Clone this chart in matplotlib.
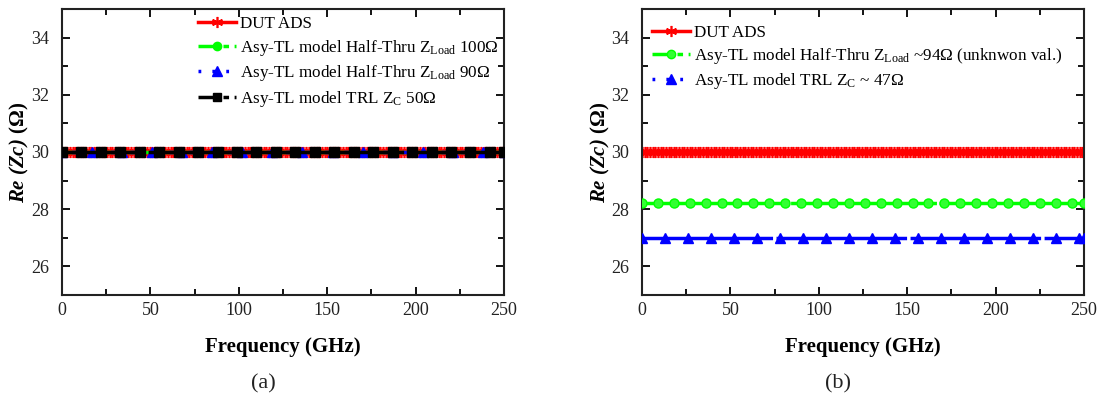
import numpy as np
import matplotlib
matplotlib.use("Agg")
import matplotlib.pyplot as plt
from matplotlib.lines import Line2D

plt.rcParams['font.family'] = ['Liberation Serif', 'DejaVu Serif']
plt.rcParams['mathtext.fontset'] = 'custom'
plt.rcParams['mathtext.rm'] = 'Liberation Serif'
plt.rcParams['mathtext.it'] = 'Liberation Serif:italic'
plt.rcParams['mathtext.bf'] = 'Liberation Serif:bold'
plt.rcParams['mathtext.bfit'] = 'Liberation Serif:italic:bold'
plt.rcParams['lines.scale_dashes'] = False

# ---------------- data ----------------
# dense simulation sweep (GHz) for DUT ADS reference
freq_dut = np.arange(0, 251, 1.5)
dut_ads_level = 30.0  # Re(Zc), flat over band

# panel (a) marker frequencies (GHz) and values
freq_a_green = [0, 11, 22, 33, 44, 55, 66, 77, 88, 99, 110, 121, 132, 143, 154, 165, 176, 187, 198, 209, 220, 231, 242, 250]
re_a_green = [30.0] * len(freq_a_green)
freq_a_blue = [0, 17, 34, 51, 68, 85, 102, 119, 136, 153, 170, 187, 204, 221, 238, 250]
re_a_blue = [30.0] * len(freq_a_blue)
freq_a_black = [0, 11, 22, 33, 44, 55, 66, 77, 88, 99, 110, 121, 132, 143, 154, 165, 176, 187, 198, 209, 220, 231, 242, 250]
re_a_black = [30.0] * len(freq_a_black)

# panel (b)
freq_b_green = [0, 9, 18, 27, 36, 45, 54, 63, 72, 81, 90, 99, 108, 117, 126, 135, 144, 153, 162, 171, 180, 189, 198, 207, 216, 225, 234, 243, 250]
re_b_green = [28.2] * len(freq_b_green)
freq_b_blue = [0, 13, 26, 39, 52, 65, 78, 91, 104, 117, 130, 143, 156, 169, 182, 195, 208, 221, 234, 247, 250]
re_b_blue = [27.0] * len(freq_b_blue)

labels_a = ['DUT ADS',
            r'Asy-TL model Half-Thru Z$_{\mathrm{Load}}$ 100Ω',
            r'Asy-TL model Half-Thru Z$_{\mathrm{Load}}$ 90Ω',
            r'Asy-TL model TRL Z$_{\mathrm{C}}$ 50Ω']
labels_b = ['DUT ADS',
            r'Asy-TL model Half-Thru Z$_{\mathrm{Load}}$ ~94Ω (unknwon val.)',
            r'Asy-TL model TRL Z$_{\mathrm{C}}$ ~ 47Ω']

x_ticks = [0, 50, 100, 150, 200, 250]
y_ticks = [26, 28, 30, 32, 34]

RED = '#ff0000'
GREEN = '#00ff00'
BLUE = '#0000ff'

fig = plt.figure(figsize=(11.01, 4.07), dpi=100)
ax_a = fig.add_axes([62/1101, 1-295/407, 442/1101, 286/407])
ax_b = fig.add_axes([642/1101, 1-295/407, 442/1101, 286/407])

star = (6, 2, 0)


def style_axes(ax):
    ax.set_xlim(0, 250)
    ax.set_ylim(25, 35)
    ax.set_xticks(x_ticks)
    ax.set_yticks(y_ticks)
    ax.set_xticks([25, 75, 125, 175, 225], minor=True)
    ax.set_yticks([25, 27, 29, 31, 33, 35], minor=True)
    ax.tick_params(which='both', direction='in', top=True, right=True,
                   labelsize=13, width=1.3, colors='black', labelcolor='#222222')
    ax.tick_params(which='major', length=6)
    ax.tick_params(which='minor', length=4)
    ax.tick_params(axis='x', pad=5)
    ax.tick_params(axis='y', pad=9)
    for s in ax.spines.values():
        s.set_linewidth(1.5)
        s.set_color('#222222')
    ax.set_xlabel('Frequency (GHz)', fontsize=15, fontweight='bold', labelpad=13)
    ax.set_ylabel(r'$\mathbfit{Re\ (Zc)}$ $\mathbf{(\Omega)}$', fontsize=15, labelpad=0)


dut_a = [dut_ads_level] * len(freq_dut)

# ---- panel (a)
ax_a.plot(freq_dut, dut_a, color=RED, lw=3, marker=star, ms=8, mew=1.2, zorder=2)
ax_a.plot(freq_a_green, re_a_green, color=GREEN, lw=2.5, dashes=(40, 2), marker='o', ms=6, zorder=3)
ax_a.plot(freq_a_blue, re_a_blue, color=BLUE, lw=2.5, dashes=(3, 4), marker='^', ms=7, zorder=4)
ax_a.plot(freq_a_black, re_a_black, color='black', lw=2.5, dashes=(60, 2), marker='s', ms=6.5, zorder=5)
style_axes(ax_a)

handles_a = [
    Line2D([], [], color=RED, lw=2.5, marker=star, ms=8, mew=1.2),
    Line2D([], [], color=GREEN, lw=2.5, dashes=(14, 4, 4, 4), marker='o', ms=6),
    Line2D([], [], color=BLUE, lw=2.5, dashes=(2, 8), marker='^', ms=7),
    Line2D([], [], color='black', lw=2.5, dashes=(14, 4, 4, 4), marker='s', ms=6),
]
ax_a.legend(handles_a, labels_a, loc='upper left', bbox_to_anchor=(0.285, 1.01),
            frameon=False, fontsize=12.3, handlelength=2.2, handletextpad=0.25,
            labelspacing=0.32, borderaxespad=0.2)

# ---- panel (b)
dut_b = [dut_ads_level] * len(freq_dut)
ax_b.plot(freq_dut, dut_b, color=RED, lw=3, marker=star, ms=8, mew=1.2, zorder=2)
ax_b.plot(freq_b_green, re_b_green, color=GREEN, lw=2.5, dashes=(105, 2), marker='o', ms=6.5,
          mfc='#33ff33', mec=GREEN, mew=1.0, zorder=3)
ax_b.plot(freq_b_blue, re_b_blue, color=BLUE, lw=2.5, dashes=(94, 2.5), marker='^', ms=7.5, zorder=4)
style_axes(ax_b)

handles_b = [
    Line2D([], [], color=RED, lw=2.5, marker=star, ms=8, mew=1.2),
    Line2D([], [], color=GREEN, lw=2.5, dashes=(14, 4, 4, 4), marker='o', ms=6, mfc='#33ff33', mew=1.0),
    Line2D([], [], color=BLUE, lw=2.5, dashes=(2, 8), marker='^', ms=7),
]
ax_b.legend(handles_b, labels_b, loc='upper left', bbox_to_anchor=(0.0, 0.98),
            frameon=False, fontsize=12.3, handlelength=2.2, handletextpad=0.25,
            labelspacing=0.28, borderaxespad=0.2)

fig.text(263/1101, 1-384/407, '(a)', fontsize=16, ha='center', va='center', color='#222222')
fig.text(838/1101, 1-384/407, '(b)', fontsize=16, ha='center', va='center', color='#222222')

fig.savefig('out.png', dpi=100)
